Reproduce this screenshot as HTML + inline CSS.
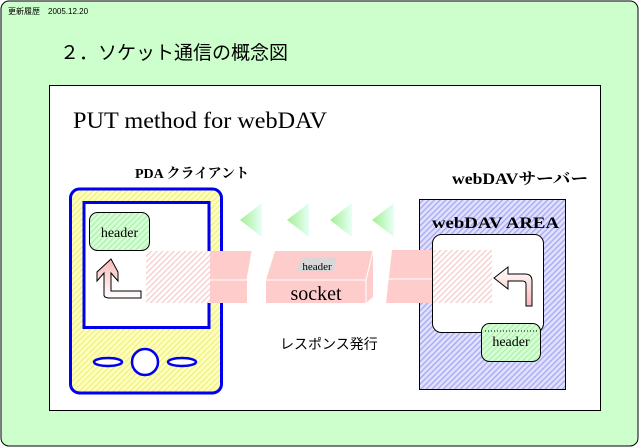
<!DOCTYPE html>
<html><head><meta charset="utf-8"><style>
html,body{margin:0;padding:0;background:#fff;}
svg{display:block;}
text{font-family:"Liberation Serif","Noto Serif CJK SC",serif;}
.g{font-family:"Liberation Sans","Noto Sans CJK JP",sans-serif;}
</style></head><body>
<svg width="640" height="448" viewBox="0 0 640 448" xmlns="http://www.w3.org/2000/svg">
<defs>
<pattern id="hy" width="4" height="4" patternUnits="userSpaceOnUse" patternTransform="rotate(45)"><rect width="4" height="4" fill="#ffffc0"/><rect width="1.3" height="4" fill="#f0f080"/></pattern>
<pattern id="hb" width="4" height="4" patternUnits="userSpaceOnUse" patternTransform="rotate(45)"><rect width="4" height="4" fill="#e0e0ff"/><rect width="1.3" height="4" fill="#a8a8f0"/></pattern>
<pattern id="hp" width="4" height="4" patternUnits="userSpaceOnUse" patternTransform="rotate(45)"><rect width="4" height="4" fill="#fff"/><rect width="1.3" height="4" fill="#f6cccc"/></pattern>
<pattern id="hg" width="4" height="4" patternUnits="userSpaceOnUse" patternTransform="rotate(45)"><rect width="4" height="4" fill="#d6ffd6"/><rect width="1.3" height="4" fill="#b0f0b0"/></pattern>
<linearGradient id="tg" x1="0" x2="1"><stop offset="0" stop-color="#a0f090"/><stop offset="1" stop-color="#e8fff8"/></linearGradient>
<linearGradient id="pg" x1="0" y1="0" x2="0" y2="1"><stop offset="0" stop-color="#fff"/><stop offset="1" stop-color="#f8b8b8"/></linearGradient>
<linearGradient id="pg2" x1="0" y1="1" x2="0" y2="0"><stop offset="0" stop-color="#fff"/><stop offset="1" stop-color="#f8b8b8"/></linearGradient>
</defs>
<rect x="0" y="0" width="640" height="448" fill="#fff"/>
<rect x="1" y="1" width="637" height="445" rx="8" fill="#ccffcc" stroke="#000" stroke-width="1"/>
<text x="8" y="14" font-size="8" class="g">更新履歴　2005.12.20</text>
<text x="60" y="59" font-size="19" class="g">２．ソケット通信の概念図</text>
<rect x="49.5" y="85.5" width="551" height="325" fill="#fff" stroke="#000"/>
<text x="73" y="128" font-size="23" textLength="254" lengthAdjust="spacingAndGlyphs">PUT method for webDAV</text>
<text x="135" y="178" font-size="14" font-weight="bold">PDA クライアント</text>
<text x="452" y="184" font-size="16" font-weight="bold" textLength="136" lengthAdjust="spacingAndGlyphs">webDAVサーバー</text>
<text x="280" y="349" font-size="14" class="g">レスポンス発行</text>
<!-- phone -->
<rect x="70.5" y="189" width="151" height="204" rx="9" fill="url(#hy)" stroke="#0000ee" stroke-width="3"/>
<rect x="84" y="202.5" width="125" height="125" fill="#fff" stroke="#0000ee" stroke-width="3"/>
<ellipse cx="108" cy="362" rx="14" ry="4" fill="#fff" stroke="#0000ee" stroke-width="2.5"/>
<circle cx="145" cy="362" r="13" fill="#fff" stroke="#0000ee" stroke-width="2.5"/>
<ellipse cx="182" cy="362" rx="14" ry="4" fill="#fff" stroke="#0000ee" stroke-width="2.5"/>
<rect x="89.5" y="212.5" width="60" height="38" rx="8" fill="url(#hg)" stroke="#000"/>
<text x="119.5" y="237" font-size="14" text-anchor="middle">header</text>
<path d="M111 259 L97 272 L97 281 L104 273 L104 295 Q104 298 110 298 L141 298 L141 291 L111 291 L111 273 L118 281 L118 272 Z" fill="url(#pg2)" stroke="#000"/>
<!-- socket pieces -->
<rect x="146" y="251" width="64" height="52" fill="url(#hp)"/>
<polygon points="210,251 252,251 247,280 247,303 210,303" fill="#ffcccc"/>
<line x1="210" y1="280" x2="247" y2="280" stroke="#fff"/><line x1="247" y1="280" x2="252" y2="251" stroke="#fff"/>
<polygon points="275,251 373,251 366,280 266,280" fill="#ffcccc"/>
<rect x="266" y="280" width="100" height="23" fill="#ffcccc"/>
<polygon points="366,280 373,251 373,297 366,303" fill="#ffcccc"/>
<line x1="266" y1="280" x2="366" y2="280" stroke="#fff"/><line x1="366" y1="280" x2="373" y2="251" stroke="#fff"/><line x1="366" y1="280" x2="366" y2="303" stroke="#fff"/>
<polygon points="302,257 337,257 333,272 296,272" fill="#d8d8d8"/>
<text x="317" y="270" font-size="11" text-anchor="middle">header</text>
<text x="316" y="300" font-size="20" text-anchor="middle">socket</text>
<!-- triangles -->
<polygon points="240,220 262,203 262,237" fill="url(#tg)"/>
<polygon points="287,220 309,203 309,237" fill="url(#tg)"/>
<polygon points="330,220 352,203 352,237" fill="url(#tg)"/>
<polygon points="372,220 394,203 394,237" fill="url(#tg)"/>
<!-- server -->
<rect x="419.5" y="199.5" width="146" height="190" fill="url(#hb)" stroke="#000"/>
<text x="432" y="228" font-size="16" font-weight="bold" textLength="127" lengthAdjust="spacingAndGlyphs">webDAV AREA</text>
<rect x="432.5" y="234.5" width="111" height="98" rx="9" fill="#fff" stroke="#000"/>
<polygon points="392,250 432,250 432,303 386,303" fill="#ffcccc"/>
<line x1="386" y1="279" x2="432" y2="279" stroke="#fff"/>
<rect x="433" y="250" width="59" height="53" fill="url(#hp)"/>
<path d="M494 278 L508 267 L508 274 L525 274 Q532 274 532 281 L532 306 L526 306 L526 284 Q526 281 522 281 L508 281 L508 289 Z" fill="url(#pg)" stroke="#000"/>
<rect x="481.5" y="323.5" width="59" height="38" rx="8" fill="url(#hg)" stroke="#000"/>
<line x1="485" y1="331" x2="537" y2="331" stroke="#000" stroke-dasharray="1,2"/>
<text x="511" y="346" font-size="14" text-anchor="middle">header</text>
</svg>
</body></html>
